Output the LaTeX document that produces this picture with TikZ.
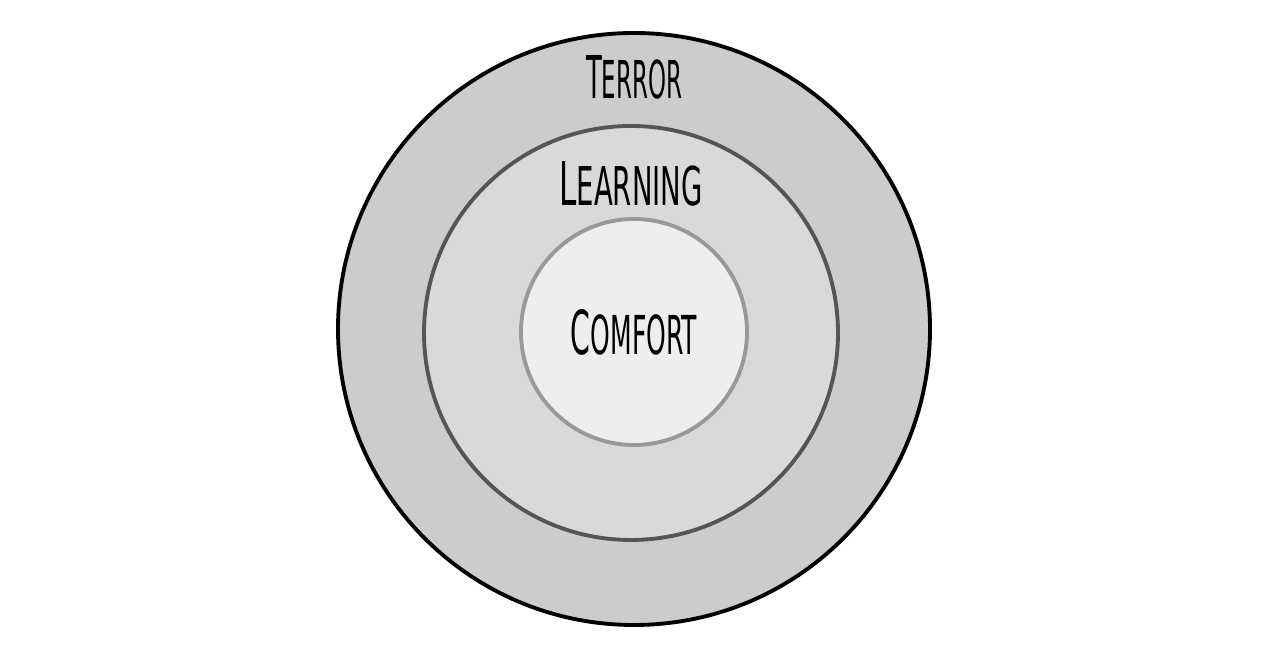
\documentclass[tikz,border=0pt]{standalone}
\usepackage{fontspec}
\setmainfont{DejaVu Sans Condensed}
\usepackage{xcolor}
\usetikzlibrary{positioning}

\definecolor{terrorfill}{HTML}{CCCCCC}
\definecolor{learnfill}{HTML}{D9D9D9}
\definecolor{comfortfill}{HTML}{EEEEEE}
\definecolor{learnline}{HTML}{555555}
\definecolor{comfortline}{HTML}{999999}

% small caps look: slightly bigger first letter, squeezed to the width of the reference
\newcommand{\zonename}[4]{\resizebox{#3}{#4}{{\fontsize{11.3}{12}\selectfont #1}#2}}

\begin{document}
\begin{tikzpicture}[
    zone/.style={circle, inner sep=0pt, line width=2.2pt},
    zonelabel/.style={inner sep=0pt, text=black}
]
    \useasboundingbox (0,0) rectangle (25.26,13.06);

    \node[zone, draw=black, fill=terrorfill, minimum size=11.84cm] (terror) at (12.68,6.48) {};
    \node[zone, draw=learnline, fill=learnfill, minimum size=8.28cm] (learning) at (12.62,6.40) {};
    \node[zone, draw=comfortline, fill=comfortfill, minimum size=4.52cm] (comfort) at (12.68,6.42) {};

    \node[zonelabel, below=0.48cm of terror.north] (terrortext) {\zonename{T}{ERROR}{1.92cm}{0.86cm}};
    \node[zonelabel, below=0.74cm of learning.north] (learningtext) {\zonename{L}{EARNING}{2.86cm}{0.88cm}};
    \node[zonelabel] (comforttext) at (comfort.center) {\zonename{C}{OMFORT}{2.52cm}{0.90cm}};
\end{tikzpicture}
\end{document}
